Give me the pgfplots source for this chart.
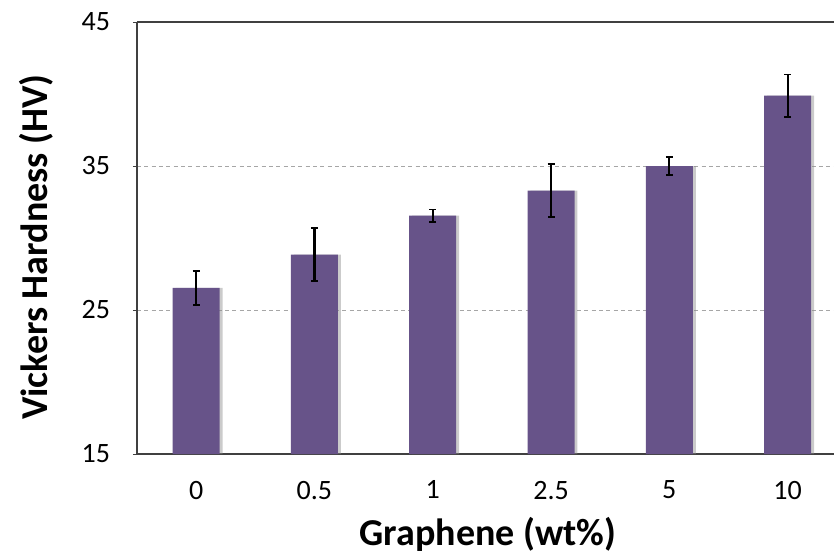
\documentclass[border=0pt]{standalone}
\usepackage{pgfplots}
\pgfplotsset{compat=1.18}
\usepackage{fontspec}
\setmainfont{Carlito}
\definecolor{barpurple}{RGB}{103,83,137}
\begin{document}
\begin{tikzpicture}
\useasboundingbox (-102.75pt,-77.25pt) rectangle (522.75pt,340.5pt);
\begin{axis}[
  at={(0,0)}, anchor=south west,
  scale only axis, width=522.75pt, height=324pt,
  xmin=-0.5, xmax=5.392, ymin=15, ymax=45,
  axis x line*=box, axis y line*=left,
  axis line style={black!75, line width=0.9pt},
  xtick={0,1,2,3,4,5},
  xticklabels={0,0.5,1,2.5,5,10},
  ytick={15,25,35,45},
  xtick style={draw=none},
  ytick style={black!75},
  major tick length=3pt, tick align=outside,
  ymajorgrids,
  grid style={black!35, line width=0.6pt, dash pattern=on 3pt off 2.5pt},
  /pgf/number format/assume math mode=true,
  tick label style={font=\fontsize{21}{25}\selectfont},
  yticklabel style={inner sep=0pt, xshift=-17pt},
  xticklabel style={inner sep=0pt, yshift=-17pt},
  xlabel={Graphene (wt\%)},
  ylabel={Vickers Hardness (HV)},
  label style={font=\fontsize{28.5}{34}\selectfont\bfseries},
  xlabel style={at={(axis description cs:0.5036,0)}, anchor=center, yshift=-60pt},
  ylabel style={at={(axis description cs:-0.1449,0.479)}, anchor=center},
]
\addplot[ybar, bar width=35.25pt, bar shift=2.2pt, fill=black!45, draw=none, opacity=0.45]
  coordinates {(0,26.54) (1,28.85) (2,31.55) (3,33.29) (4,35.0) (5,39.88)};
\addplot[ybar, bar width=35.25pt, bar shift=0pt, fill=barpurple, draw=none,
  error bars/.cd, y dir=both, y explicit,
  error bar style={line width=1.6pt, black},
  error mark options={rotate=90, mark size=2.6pt, line width=1.4pt, black}]
  coordinates {
    (0,26.54) +- (0,1.19)
    (1,28.85) +- (0,1.84)
    (2,31.55) +- (0,0.43)
    (3,33.29) +- (0,1.82)
    (4,35.0)  +- (0,0.60)
    (5,39.88) +- (0,1.47)
  };
\end{axis}
\end{tikzpicture}
\end{document}
